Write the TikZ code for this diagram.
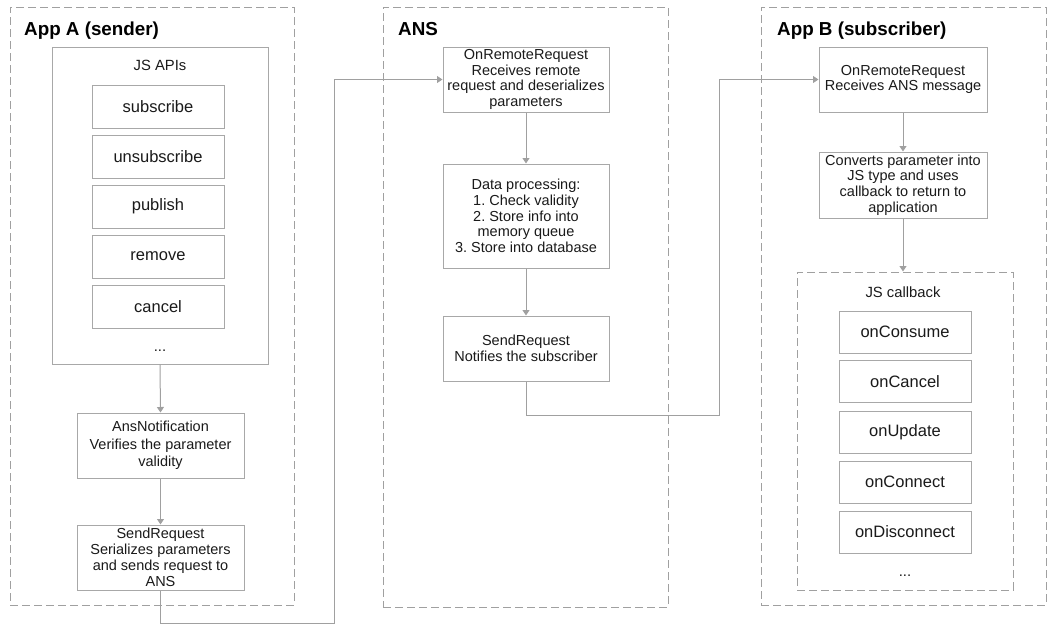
\documentclass[tikz,border=0pt]{standalone}
\usepackage{fontspec}
\setmainfont{Liberation Sans}
\usetikzlibrary{arrows.meta}
\definecolor{linegray}{HTML}{A0A0A0}
\definecolor{boxgray}{HTML}{A8A8A8}
\definecolor{txt}{HTML}{1A1A1A}
\frenchspacing
\begin{document}
\begin{tikzpicture}[x=1pt,y=-1pt,
  frame/.style={draw=linegray, line width=1pt, dash pattern=on 8pt off 4pt, fill=none, inner sep=0pt},
  container/.style={draw=boxgray, line width=1pt, inner sep=0pt},
  box/.style={draw=boxgray, line width=1pt, fill=white, align=center, text=txt, inner sep=0pt,
    font=\fontsize{14.5}{15.8}\selectfont},
  item/.style={draw=boxgray, line width=1pt, fill=white, text=txt, inner sep=0pt,
    minimum width=132pt, minimum height=43pt, font=\fontsize{16.5}{19}\selectfont},
  title/.style={anchor=base west, text=black, font=\bfseries\fontsize{18.8}{22}\selectfont, inner sep=0pt},
  label/.style={anchor=base, text=txt, inner sep=0pt, font=\fontsize{14.8}{18}\selectfont},
  conn/.style={draw=linegray, line width=1pt},
  arr/.style={conn, -{Triangle[width=7pt,length=5.5pt]}}
]
\useasboundingbox (0,0) rectangle (1060,630);

% ---------- App A ----------
\node[frame, minimum width=284pt, minimum height=598pt] (appA) at (152,306) {};
\node[title] (tA) at (24,35) {App A (sender)};
\node[container, minimum width=216pt, minimum height=317pt] (jsapi) at (160,205.5) {};
\node[label] (jsapil) at (160,70.5) {JS APIs};
\node[item] (i1) at (158,106.5) {subscribe};
\node[item] (i2) at (158,156.5) {unsubscribe};
\node[item] (i3) at (158,206.5) {publish};
\node[item] (i4) at (158,256.5) {remove};
\node[item] (i5) at (158,306.5) {cancel};
\node[label] (idots) at (160,351) {...};
\node[box, minimum width=167pt, minimum height=65pt, font=\fontsize{14.5}{17.5}\selectfont] (ansn) at (160.5,445.5)
  {AnsNotification\\Verifies the parameter\\validity};
\node[box, minimum width=167pt, minimum height=65pt] (sendA) at (160.5,557.5)
  {SendRequest\\Serializes parameters\\and sends request to\\ANS};

% ---------- ANS ----------
\node[frame, minimum width=285pt, minimum height=600pt] (ans) at (525.5,307) {};
\node[title] (tN) at (398,35) {ANS};
\node[box, minimum width=166pt, minimum height=65pt] (ansR) at (526,79.5)
  {OnRemoteRequest\\Receives remote\\request and deserializes\\parameters};
\node[box, minimum width=166pt, minimum height=104pt] (ansD) at (526,216)
  {Data processing:\\1. Check validity\\2. Store info into\\memory queue\\3. Store into database};
\node[box, minimum width=166pt, minimum height=65pt] (ansS) at (526,348.5)
  {SendRequest\\Notifies the subscriber};

% ---------- App B ----------
\node[frame, minimum width=285pt, minimum height=598pt] (appB) at (903.5,306) {};
\node[title] (tB) at (777,35) {App B (subscriber)};
\node[box, minimum width=168pt, minimum height=65pt] (bR) at (903,79.5)
  {OnRemoteRequest\\Receives ANS message};
\node[box, minimum width=168pt, minimum height=66pt] (bC) at (903,185)
  {Converts parameter into\\JS type and uses\\callback to return to\\application};
\node[frame, minimum width=216pt, minimum height=318pt] (cb) at (905,431) {};
\node[label] (cbl) at (903,297) {JS callback};
\node[item, minimum height=42pt] (c1) at (905,332) {onConsume};
\node[item, minimum height=42pt] (c2) at (905,381.5) {onCancel};
\node[item, minimum height=42pt] (c3) at (905,432) {onUpdate};
\node[item, minimum height=42pt] (c4) at (905,482) {onConnect};
\node[item, minimum height=42pt] (c5) at (905,532) {onDisconnect};
\node[label] (cdots) at (905,576) {...};

% ---------- connectors ----------
\draw[arr] (jsapi.south) -- (ansn.north);
\draw[arr] (ansn.south) -- (sendA.north);
\coordinate (k1) at (334,623);
\draw[arr] (sendA.south) |- (k1) |- (ansR.west);

\draw[arr] (ansR.south) -- (ansD.north);
\draw[arr] (ansD.south) -- (ansS.north);
\coordinate (k2) at (719,415);
\draw[arr] (ansS.south) |- (k2) |- (bR.west);

\draw[arr] (bR.south) -- (bC.north);
\draw[arr] (bC.south) -- (cb.north -| bC.south);
\end{tikzpicture}
\end{document}
